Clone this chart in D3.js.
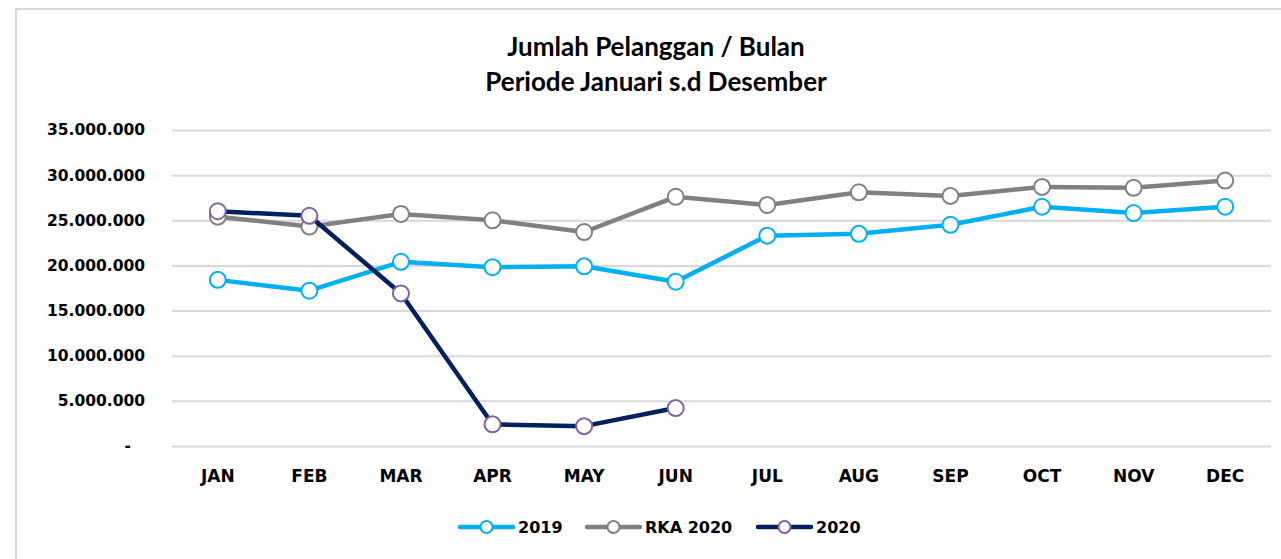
<!DOCTYPE html>
<html>
<head>
<meta charset="utf-8">
<script src="https://cdn.jsdelivr.net/npm/d3@7.9.0/dist/d3.min.js"></script>
<style>
  body { margin: 0; background: #fff; }
  svg { display: block; }
</style>
</head>
<body>
<svg width="1281" height="559"></svg>
<script>
const months = ['JAN', 'FEB', 'MAR', 'APR', 'MAY', 'JUN', 'JUL', 'AUG', 'SEP', 'OCT', 'NOV', 'DEC'];
const data2019 = [18400000, 17200000, 20400000, 19800000, 19900000, 18200000, 23300000, 23500000, 24500000, 26500000, 25800000, 26500000];
const rka2020 = [25400000, 24300000, 25700000, 25000000, 23700000, 27600000, 26700000, 28100000, 27700000, 28700000, 28600000, 29400000];
const data2020 = [26000000, 25500000, 16900000, 2400000, 2200000, 4200000];
const yTicks = [0, 5000000, 10000000, 15000000, 20000000, 25000000, 30000000, 35000000];

const series = [
  { name: '2019', values: data2019, line: '#00b0f0', marker: '#00b0f0' },
  { name: 'RKA 2020', values: rka2020, line: '#808080', marker: '#808080' },
  { name: '2020', values: data2020, line: '#002060', marker: '#8064a2' },
];

const svg = d3.select('svg');

// bingkai chart
svg.append('rect')
  .attr('x', 16).attr('y', 9)
  .attr('width', 1300).attr('height', 600)
  .attr('fill', '#fff')
  .attr('stroke', '#d9d9d9').attr('stroke-width', 2);

// judul
const title = svg.append('text')
  .attr('text-anchor', 'middle')
  .attr('font-family', 'Lato, "Open Sans", sans-serif')
  .attr('font-weight', 'bold')
  .attr('font-size', 26)
  .attr('fill', '#000');
title.append('tspan').attr('x', 656).attr('y', 56).text('Jumlah Pelanggan / Bulan');
title.append('tspan').attr('x', 656).attr('y', 91).text('Periode Januari s.d Desember');

const x = d3.scaleBand().domain(months).range([172, 1271]);
const y = d3.scaleLinear().domain([0, 35000000]).range([446, 130]);

const fmt = (v) => v === 0 ? '-' : d3.format(',')(v).replace(/,/g, '.');

// gridlines + sumbu Y
const yAxis = svg.append('g')
  .attr('transform', 'translate(172,0)')
  .call(d3.axisLeft(y).tickValues(yTicks).tickFormat(fmt).tickSize(-1099).tickPadding(27));
yAxis.select('.domain').remove();
yAxis.selectAll('.tick line').attr('stroke', '#d9d9d9').attr('stroke-width', 2);
yAxis.selectAll('.tick text')
  .attr('font-family', '"DejaVu Sans", Verdana, sans-serif')
  .attr('font-weight', 'bold')
  .attr('font-size', 15.5)
  .attr('fill', '#000');
yAxis.selectAll('.tick')
  .filter((d) => d === 0)
  .select('text').attr('dx', -14);

// sumbu X
const xAxis = svg.append('g')
  .attr('transform', 'translate(0,446)')
  .call(d3.axisBottom(x).tickSize(0).tickPadding(24));
xAxis.select('.domain').remove();
xAxis.selectAll('.tick text')
  .attr('font-family', '"DejaVu Sans", Verdana, sans-serif')
  .attr('font-weight', 'bold')
  .attr('font-size', 17)
  .attr('fill', '#000');

const cx = (i) => x(months[i]) + x.bandwidth() / 2;
const line = d3.line().x((d, i) => cx(i)).y((d) => y(d));

// garis dan marker
series.forEach((s) => {
  svg.append('path')
    .datum(s.values)
    .attr('d', line)
    .attr('fill', 'none')
    .attr('stroke', s.line)
    .attr('stroke-width', 4.5)
    .attr('stroke-linejoin', 'round')
    .attr('stroke-linecap', 'round');
  svg.append('g')
    .selectAll('circle')
    .data(s.values)
    .join('circle')
    .attr('cx', (d, i) => cx(i))
    .attr('cy', (d) => y(d))
    .attr('r', 8)
    .attr('fill', '#fff')
    .attr('stroke', s.marker)
    .attr('stroke-width', 2);
});

// legenda
const legendX = [460, 587, 758];
const legend = svg.append('g');
series.forEach((s, i) => {
  const g = legend.append('g').attr('transform', `translate(${legendX[i]},527)`);
  g.append('line')
    .attr('x1', 0).attr('x2', 53)
    .attr('stroke', s.line).attr('stroke-width', 4.5)
    .attr('stroke-linecap', 'round');
  g.append('circle')
    .attr('cx', 26.5).attr('r', 6)
    .attr('fill', '#fff')
    .attr('stroke', s.marker).attr('stroke-width', 2);
  g.append('text')
    .attr('x', 58).attr('y', 6)
    .attr('font-family', '"DejaVu Sans", Verdana, sans-serif')
    .attr('font-weight', 'bold')
    .attr('font-size', 16)
    .attr('fill', '#000')
    .text(s.name);
});
</script>
</body>
</html>
